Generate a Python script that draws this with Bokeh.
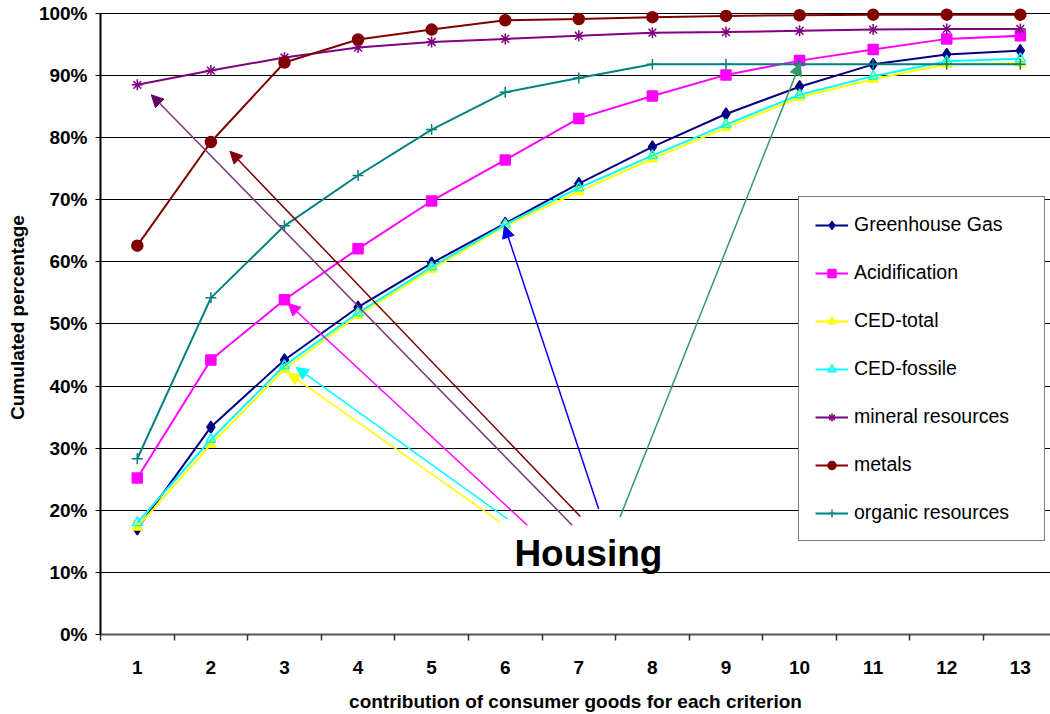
from bokeh.plotting import figure
from bokeh.models import (Range1d, FixedTicker, PrintfTickFormatter, Arrow,
                          NormalHead, ColumnDataSource)
from bokeh.core.properties import value
from bokeh.embed import file_html
from bokeh.resources import INLINE

FONT = "Liberation Sans"

# Number of consumer goods (ranked) taken into account
goods = list(range(1, 14))

# Cumulated share (%) of each impact criterion
greenhouse_gas = [17.0, 33.4, 44.2, 52.7, 59.8, 66.2, 72.6, 78.5, 83.8, 88.2, 91.8, 93.4, 94.0]
acidification = [25.2, 44.2, 53.9, 62.1, 69.8, 76.4, 83.1, 86.7, 90.1, 92.4, 94.2, 95.9, 96.4]
ced_total = [17.3, 30.6, 42.7, 51.4, 58.8, 65.8, 71.3, 76.6, 81.6, 86.5, 89.4, 91.8, 92.0]
ced_fossile = [18.0, 31.4, 43.3, 51.8, 59.2, 66.0, 71.9, 77.1, 82.1, 86.9, 89.9, 92.3, 92.7]
mineral_resources = [88.5, 90.8, 92.9, 94.5, 95.4, 95.9, 96.4, 96.9, 97.0, 97.2, 97.4, 97.5, 97.5]
metals = [62.6, 79.3, 92.1, 95.8, 97.4, 98.9, 99.1, 99.4, 99.6, 99.7, 99.8, 99.8, 99.8]
organic_resources = [28.3, 54.2, 65.8, 73.9, 81.3, 87.3, 89.6, 91.8, 91.8, 91.8, 91.8, 91.8, 91.8]

series = [
    ("Greenhouse Gas", greenhouse_gas, "#000080", "diamond", "#000080", 12),
    ("Acidification", acidification, "#FF00FF", "square", "#FF00FF", 10),
    ("CED-total", ced_total, "#FFFF00", "triangle", "#FFFF00", 10),
    ("CED-fossile", ced_fossile, "#00FFFF", "triangle", None, 10),
    ("mineral resources", mineral_resources, "#800080", "asterisk", None, 11),
    ("metals", metals, "#800000", "circle", "#800000", 11),
    ("organic resources", organic_resources, "#008080", "cross", None, 11),
]

# "Housing" call-out: arrows from the label to the housing position of each curve
housing_label = "Housing"
housing_label_pos = (7.13, 13.0)
housing_arrows = [
    # (x_start, y_start, x_end, y_end, line colour, head colour)
    (5.93, 18.1, 3.05, 42.1, "#FFFF00", "#FFFF00"),
    (6.03, 18.6, 3.16, 43.0, "#00FFFF", "#00FFFF"),
    (6.30, 17.6, 3.05, 53.3, "#FF00FF", "#FF00FF"),
    (6.91, 17.6, 1.19, 86.9, "#7a3a7a", "#660066"),
    (7.02, 19.0, 2.26, 77.8, "#800000", "#800000"),
    (7.27, 20.2, 5.99, 65.8, "#0000FF", "#0000FF"),
    (7.56, 18.9, 10.01, 92.0, "#339966", "#339966"),
]

p = figure(width=1050, height=714, output_backend="svg", toolbar_location=None,
           x_range=Range1d(0.5, 13.41), y_range=Range1d(0, 102.08),
           min_border_left=100, min_border_right=0, min_border_top=0,
           min_border_bottom=76)
p.outline_line_color = None
p.background_fill_color = "white"
p.border_fill_color = "white"

# horizontal gridlines every 10 %
p.xgrid.grid_line_color = None
p.ygrid.grid_line_color = "#000000"
p.ygrid.grid_line_width = 1

# y axis
p.yaxis.ticker = FixedTicker(ticks=list(range(0, 101, 10)))
p.yaxis.formatter = PrintfTickFormatter(format="%d%%")
p.yaxis.bounds = (0, 100)
p.yaxis.axis_line_color = "#000000"
p.yaxis.axis_line_width = 2
p.yaxis.major_tick_out = 5
p.yaxis.major_tick_in = 0
p.yaxis.major_tick_line_color = "#000000"
p.yaxis.minor_tick_line_color = None
p.yaxis.major_label_standoff = 8
p.yaxis.major_label_text_font = FONT
p.yaxis.major_label_text_font_style = "bold"
p.yaxis.major_label_text_font_size = "19px"
p.yaxis.major_label_text_color = "#000000"
p.yaxis.axis_label = "Cumulated percentage"
p.yaxis.axis_label_text_font = FONT
p.yaxis.axis_label_text_font_style = "bold"
p.yaxis.axis_label_text_font_size = "19px"
p.yaxis.axis_label_text_color = "#000000"
p.yaxis.axis_label_standoff = 8

# x axis: labels at category centres, tick marks between categories
p.xaxis.ticker = FixedTicker(ticks=goods, minor_ticks=[g - 0.5 for g in goods] + [13.5])
p.xaxis.axis_line_color = "#555555"
p.xaxis.axis_line_width = 2
p.xaxis.major_tick_line_color = None
p.xaxis.major_tick_out = 0
p.xaxis.major_tick_in = 0
p.xaxis.minor_tick_line_color = "#333333"
p.xaxis.minor_tick_line_width = 1.5
p.xaxis.minor_tick_out = 6
p.xaxis.minor_tick_in = 0
p.xaxis.major_label_standoff = 20
p.xaxis.major_label_text_font = FONT
p.xaxis.major_label_text_font_style = "bold"
p.xaxis.major_label_text_font_size = "19px"
p.xaxis.major_label_text_color = "#000000"
p.xaxis.axis_label = "contribution of consumer goods for each criterion"
p.xaxis.axis_label_text_font = FONT
p.xaxis.axis_label_text_font_style = "bold"
p.xaxis.axis_label_text_font_size = "19px"
p.xaxis.axis_label_text_color = "#000000"
p.xaxis.axis_label_standoff = 14

for name, vals, color, marker, fill, size in series:
    src = ColumnDataSource(dict(x=goods, y=vals))
    p.line("x", "y", source=src, line_color=color, line_width=2, legend_label=name)
    p.scatter("x", "y", source=src, marker=marker, size=size, line_color=color,
              line_width=1.5, fill_color=fill, legend_label=name)

for xs, ys, xe, ye, lc, hc in housing_arrows:
    p.add_layout(Arrow(x_start=xs, y_start=ys, x_end=xe, y_end=ye,
                       line_color=lc, line_width=1.5,
                       end=NormalHead(size=12, fill_color=hc, line_color=hc, line_width=1)))

p.text(x=[housing_label_pos[0]], y=[housing_label_pos[1]], text=[housing_label],
       text_font=value(FONT), text_font_style="bold", text_font_size="37px",
       text_align="center", text_baseline="alphabetic", text_color="#000000")

lg = p.legend[0]
lg.location = (698, 93)
lg.padding = 16
lg.spacing = 25
lg.glyph_width = 33
lg.glyph_height = 20
lg.label_height = 20
lg.label_width = 174
lg.label_standoff = 6
lg.label_text_font = FONT
lg.label_text_font_size = "19.5px"
lg.label_text_color = "#000000"
lg.border_line_color = "#000000"
lg.border_line_width = 1.5
lg.background_fill_color = "white"
lg.background_fill_alpha = 1.0
lg.margin = 0

open("out.html", "w").write(file_html(p, INLINE))
